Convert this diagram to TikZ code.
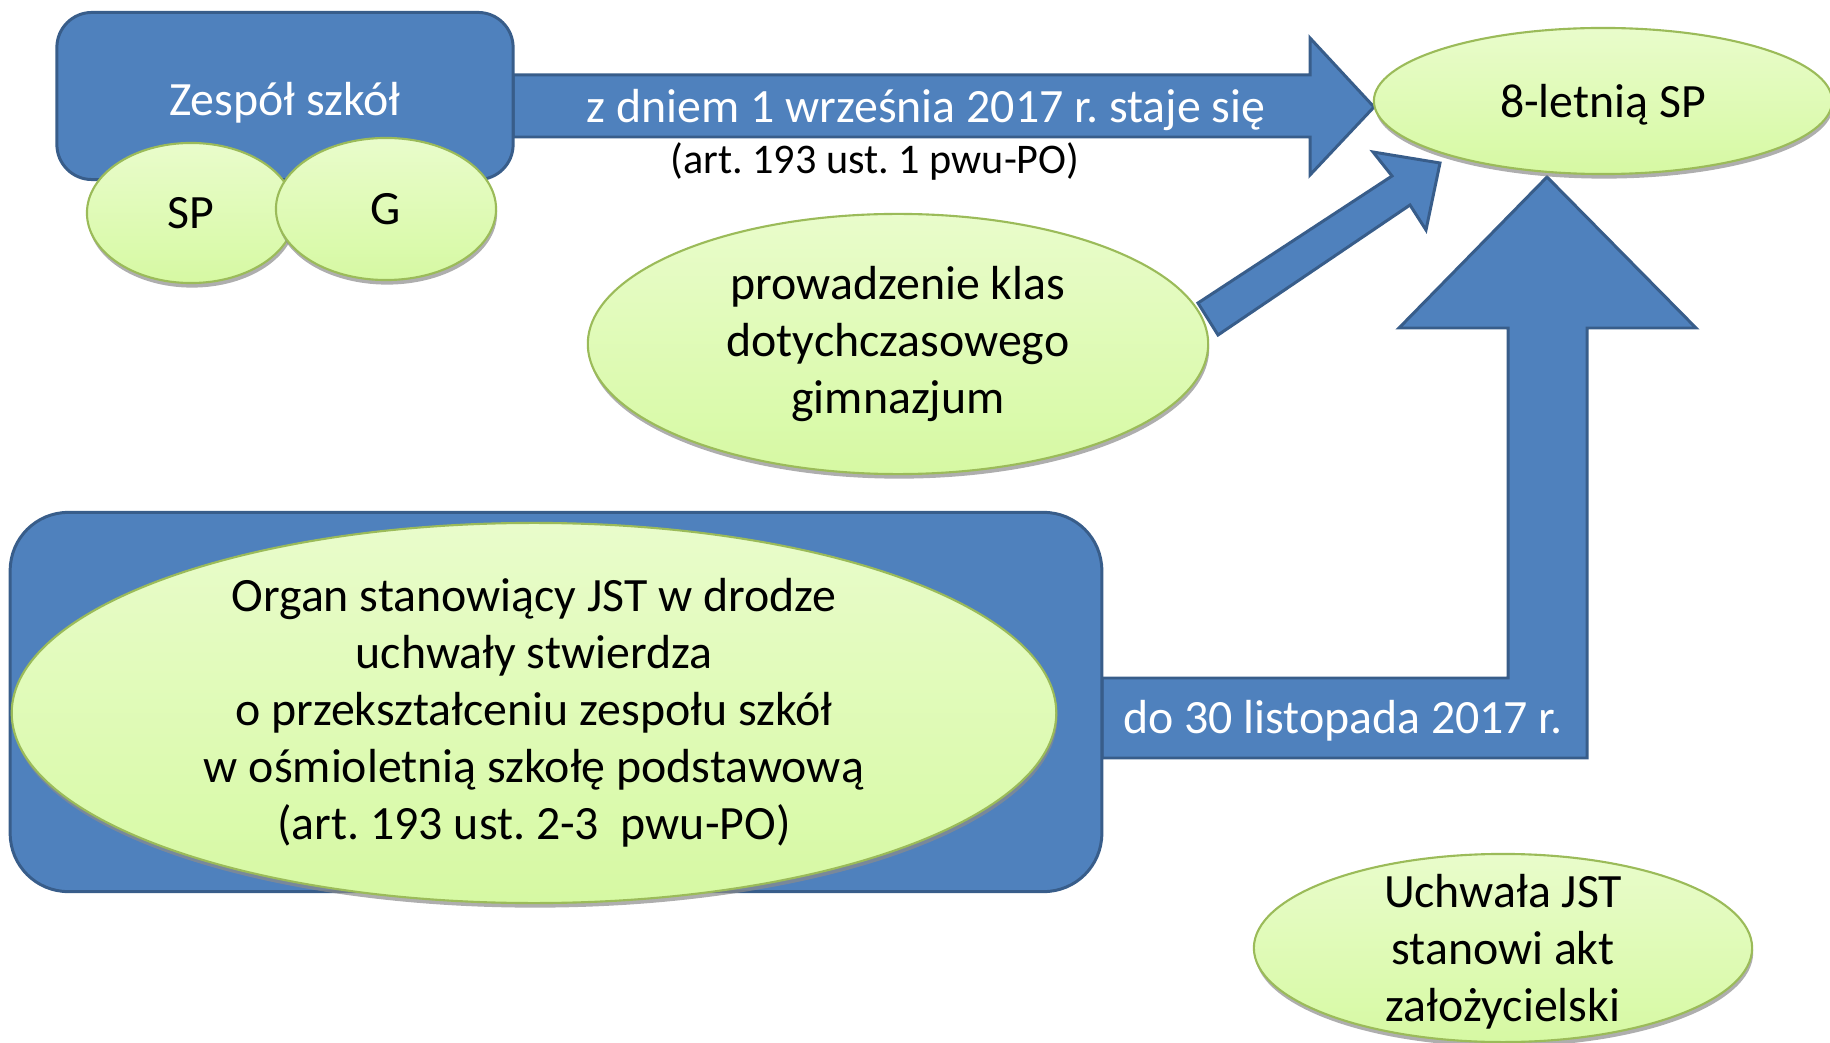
\documentclass[tikz,border=0pt]{standalone}
\usepackage{fontspec}
\setmainfont{Carlito}
\usetikzlibrary{shapes.geometric,shadows}
\definecolor{bxblue}{RGB}{79,129,189}
\definecolor{bxline}{RGB}{56,93,138}
\definecolor{elltop}{RGB}{233,252,203}
\definecolor{ellbot}{RGB}{214,249,163}
\definecolor{ellline}{RGB}{155,187,89}
\frenchspacing

\begin{document}
\begin{tikzpicture}[x=0.01cm, y=-0.01cm,
  blk/.style={fill=bxblue, draw=bxline, line width=0.85pt, line join=miter},
  box/.style={blk, rounded corners=#1, inner sep=0pt},
  oval/.style={ellipse, draw=ellline, line width=0.6pt, top color=elltop,
    bottom color=ellbot, inner sep=0pt, align=center,
    drop shadow={shadow xshift=0.3pt, shadow yshift=-1.3pt, fill=black!45, opacity=0.7}},
  txt/.style={font=\fontsize{13.6}{16.2}\selectfont},
  small/.style={font=\fontsize{12}{14}\selectfont}]
  \useasboundingbox (0,0) rectangle (1830,1043);
  % --- block arrows ---
  \draw[blk] (513,75) -- (1310,75) -- (1310,38) -- (1374,107) -- (1310,175)
    -- (1310,137) -- (513,137) -- cycle;
  \draw[blk] (1102,678) -- (1508,678) -- (1508,328) -- (1399,328) -- (1547,177)
    -- (1696,328) -- (1587,328) -- (1587,758) -- (1102,758) -- cycle;
  % --- Zespol szkol ---
  \node[box=0.35cm, minimum width=4.56cm, minimum height=1.67cm] (zs) at (285,96) {};
  \node[txt, text=white] (zslbl) at (285,103) {Zespół szkół};
  \node[oval, txt, minimum width=2.08cm, minimum height=1.40cm] (sp) at (191,213) {SP};
  \node[oval, txt, minimum width=2.20cm, minimum height=1.42cm] (g) at (386,209) {G};
  % --- arrow labels ---
  \node[txt, text=white] (lbl1) at (926,110) {z dniem 1 września 2017 r. staje się};
  \node[small] (lbl1b) at (875,161) {(art. 193 ust. 1 pwu-PO)};
  \node[txt, text=white] (lbl2) at (1343,721) {do 30 listopada 2017 r.};
  % --- targets ---
  \node[oval, txt, text depth=0pt, minimum width=4.58cm, minimum height=1.46cm] (sp8) at (1603,101) {8-letnią SP};
  \node[oval, txt, minimum width=6.20cm, minimum height=2.60cm] (prow) at (898,344)
    {prowadzenie klas\\dotychczasowego\\gimnazjum};
  \draw[blk] (1198,303) -- (1392,176) -- (1373,152) -- (1440,163) -- (1426,230)
    -- (1410,205) -- (1218,335) -- cycle;
  % --- Organ JST ---
  \node[box=0.58cm, minimum width=10.91cm, minimum height=3.79cm] (organbox) at (556,702) {};
  \node[oval, txt, minimum width=10.44cm, minimum height=3.68cm] (organ) at (534,713)
    {Organ stanowiący JST w drodze\\uchwały stwierdza\\o przekształceniu zespołu szkół\\
     w ośmioletnią szkołę podstawową\\(art. 193 ust. 2-3 \ pwu-PO)};
  \node[oval, txt, minimum width=4.98cm, minimum height=1.88cm] (uchw) at (1503,948) {};
  \node[txt, align=center] (uchwlbl) at (1503,952) {Uchwała JST\\stanowi akt\\założycielski};
\end{tikzpicture}
\end{document}
